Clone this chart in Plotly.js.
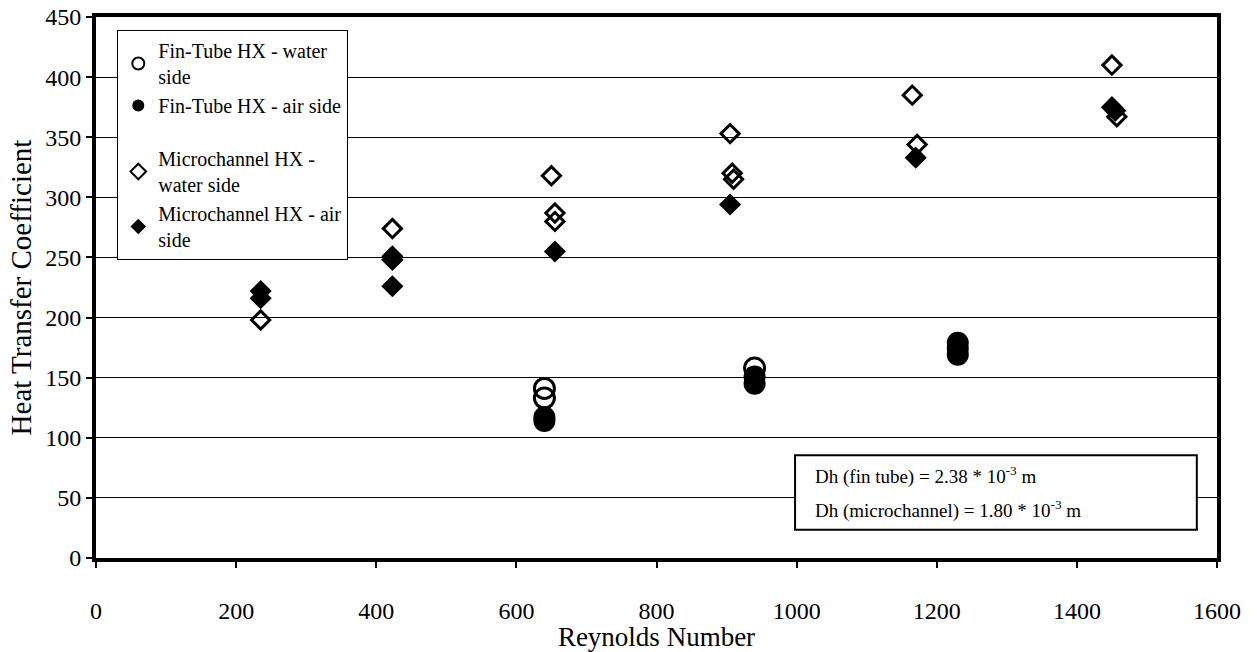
<!DOCTYPE html>
<html>
<head>
<meta charset="utf-8">
<script src="https://cdn.plot.ly/plotly-3.0.1.min.js"></script>
<style>html,body{margin:0;padding:0;background:#fff;}#chart{width:1257px;height:652px;}</style>
</head>
<body>
<div id="chart"></div>
<script>
// Fin-Tube HX - water side (open circles)
const ftWaterX = [640, 640, 940];
const ftWaterY = [141, 133, 158];
// Fin-Tube HX - air side (filled circles)
const ftAirX = [640, 640, 940, 940, 1230, 1230, 1230];
const ftAirY = [117, 114, 151, 145, 179, 174, 169];
// Microchannel HX - water side (open diamonds)
const mcWaterX = [235, 423, 423, 650, 655, 655, 905, 908, 910, 1165, 1172, 1450, 1457];
const mcWaterY = [198, 274, 248, 318, 287, 280, 353, 320, 315, 385, 344, 410, 367];
// Microchannel HX - air side (filled diamonds)
const mcAirX = [235, 235, 423, 423, 655, 905, 1170, 1450, 1455];
const mcAirY = [222, 216, 251, 226, 255, 294, 333, 375, 372];

const xTicks = [0, 200, 400, 600, 800, 1000, 1200, 1400, 1600];
const yTicks = [0, 50, 100, 150, 200, 250, 300, 350, 400, 450];

const names = [
  "Fin-Tube HX - water<br>side",
  "Fin-Tube HX - air side",
  "Microchannel HX -<br>water side",
  "Microchannel HX - air<br>side"
];

const serif = "Liberation Serif, Times New Roman, serif";

const traces = [
  {x: ftWaterX, y: ftWaterY, name: names[0], mode: "markers", type: "scatter", legendgroup: "ft",
   marker: {symbol: "circle-open", size: 20, color: "#000", line: {width: 3, color: "#000"}}},
  {x: ftAirX, y: ftAirY, name: names[1], mode: "markers", type: "scatter", legendgroup: "ft",
   marker: {symbol: "circle", size: 22, color: "#000", line: {width: 0}}},
  {x: mcWaterX, y: mcWaterY, name: names[2], mode: "markers", type: "scatter", legendgroup: "mc",
   marker: {symbol: "diamond-open", size: 14, color: "#000", line: {width: 3, color: "#000"}}},
  {x: mcAirX, y: mcAirY, name: names[3], mode: "markers", type: "scatter", legendgroup: "mc",
   marker: {symbol: "diamond", size: 17, color: "#000", line: {width: 0}}}
];

const layout = {
  width: 1257, height: 652,
  margin: {l: 96, r: 40, t: 17, b: 94},
  paper_bgcolor: "#fff", plot_bgcolor: "#fff",
  font: {family: serif, color: "#000", size: 20},
  showlegend: true,
  legend: {
    x: 0.019, y: 0.976, xanchor: "left", yanchor: "top",
    bgcolor: "#fff", bordercolor: "#000", borderwidth: 1,
    font: {family: serif, size: 20, color: "#000"},
    traceorder: "grouped", tracegroupgap: 24, itemsizing: "constant", itemwidth: 30
  },
  xaxis: {
    range: [0, 1600], tickvals: xTicks, ticktext: xTicks.map(String),
    showgrid: false, zeroline: false,
    showline: true, linewidth: 4, linecolor: "#000", mirror: true,
    ticks: "outside", ticklen: 6, tickwidth: 2, tickcolor: "#000",
    ticklabelstandoff: 22,
    tickfont: {family: serif, size: 24, color: "#000"},
    title: {text: "Reynolds Number", font: {family: serif, size: 27, color: "#000"}, standoff: 2}
  },
  yaxis: {
    range: [0, 450], tickvals: yTicks, ticktext: yTicks.map(String),
    showgrid: true, gridcolor: "#000", gridwidth: 1, zeroline: false,
    showline: true, linewidth: 4, linecolor: "#000", mirror: true,
    ticks: "outside", ticklen: 6, tickwidth: 2, tickcolor: "#000",
    tickfont: {family: serif, size: 24, color: "#000"},
    title: {text: "Heat Transfer Coefficient", font: {family: serif, size: 29, color: "#000"}, standoff: 6}
  },
  shapes: [
    {type: "rect", xref: "paper", yref: "paper", x0: 0.6236, x1: 0.982, y0: 0.052, y1: 0.19,
     line: {color: "#000", width: 2}, fillcolor: "#fff", layer: "above"}
  ],
  annotations: [
    {xref: "paper", yref: "paper", x: 0.64, y: 0.153, xanchor: "left", yanchor: "middle", showarrow: false,
     text: "Dh (fin tube) = 2.38 * 10<sup>-3</sup> m", font: {family: serif, size: 19, color: "#000"}},
    {xref: "paper", yref: "paper", x: 0.64, y: 0.089, xanchor: "left", yanchor: "middle", showarrow: false,
     text: "Dh (microchannel) = 1.80 * 10<sup>-3</sup> m", font: {family: serif, size: 19, color: "#000"}}
  ]
};

Plotly.newPlot("chart", traces, layout, {displayModeBar: false, staticPlot: true});
</script>
</body>
</html>
